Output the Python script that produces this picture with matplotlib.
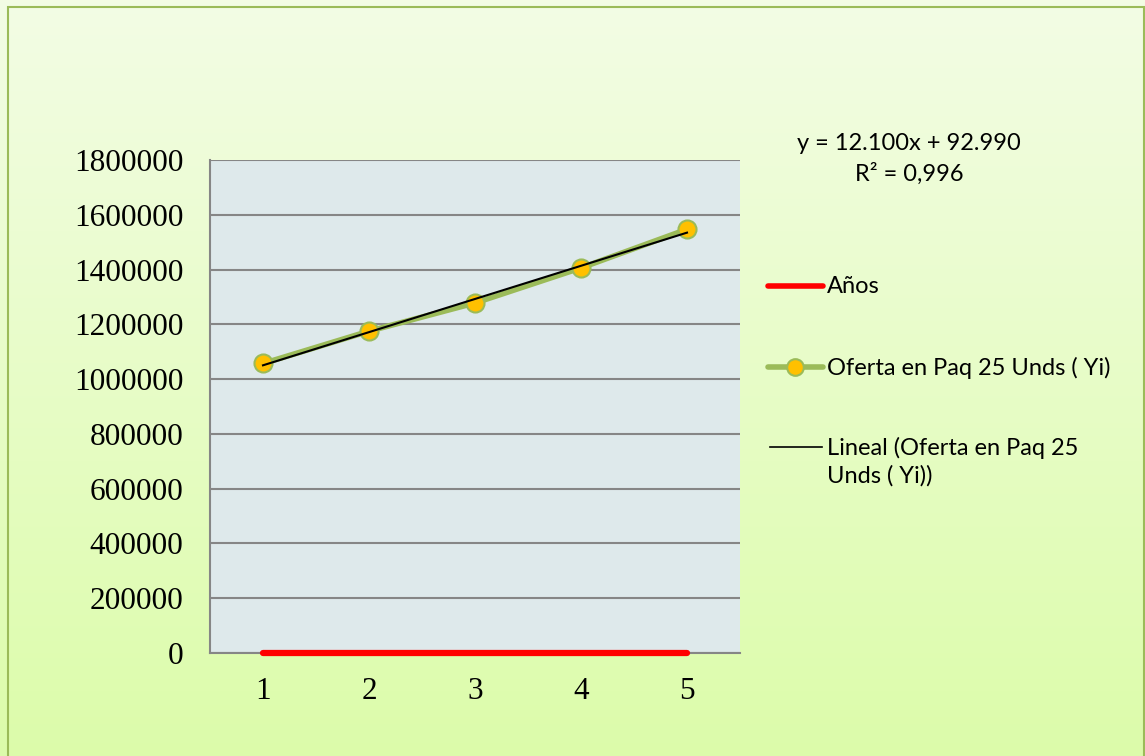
import numpy as np
import matplotlib
matplotlib.use("Agg")
import matplotlib.pyplot as plt
from matplotlib.lines import Line2D
from matplotlib.patches import Rectangle

# Data
periodos = [1, 2, 3, 4, 5]
anios = [1, 2, 3, 4, 5]
oferta = [1057000, 1175000, 1278000, 1406000, 1547000]
y_ticks = [0, 200000, 400000, 600000, 800000, 1000000, 1200000, 1400000, 1600000, 1800000]
ecuacion = "y = 12.100x + 92.990"
r_cuadrado = "R² = 0,996"
nombres = ["Años", "Oferta en Paq 25 Unds ( Yi)", "Lineal (Oferta en Paq 25\nUnds ( Yi))"]

W, H = 1145, 756
fig = plt.figure(figsize=(W / 100, H / 100), dpi=100)


def fx(px):
    return px / W


def fy(py):
    return 1 - py / H


# vertical green gradient behind everything
bg = fig.add_axes([0, 0, 1, 1], zorder=-10)
grad = np.linspace(0, 1, 256).reshape(-1, 1)
top = np.array([0.953, 0.992, 0.898])
bottom = np.array([0.863, 0.988, 0.667])
img = top * (1 - grad[..., None]) + bottom * grad[..., None]
bg.imshow(img, aspect="auto", extent=[0, 1, 0, 1], origin="upper")
bg.set_xlim(0, 1)
bg.set_ylim(0, 1)
bg.axis("off")
bg.add_patch(Rectangle((fx(8), -0.01), fx(1144) - fx(8), fy(7) + 0.01,
                       fill=False, edgecolor="#9bbb59", lw=1.5))

ax = fig.add_axes([fx(210), fy(653), 530 / W, 493 / H])
ax.set_facecolor("#dee9eb")

x = np.array(periodos)
ax.plot(x, anios, color="#ff0000", lw=4.5, solid_capstyle="round", zorder=6, clip_on=False)
ax.plot(x, oferta, color="#9bbb59", lw=4, marker="o", ms=13,
        markerfacecolor="#ffc000", markeredgecolor="#9bbb59", markeredgewidth=1.5, zorder=4)

# linear trend of the supply series
m, b = np.polyfit(x, oferta, 1)
ax.plot(x, m * x + b, color="black", lw=1.5, zorder=5)

ax.set_xlim(0.5, 5.5)
ax.set_ylim(0, 1800000)
ax.set_yticks(y_ticks)
ax.set_yticklabels([str(v) for v in y_ticks])
ax.set_xticks(periodos)
ax.yaxis.grid(True, color="#868686", lw=1.5)
ax.set_axisbelow(True)
for side in ["top", "right"]:
    ax.spines[side].set_visible(False)
for side in ["left", "bottom"]:
    ax.spines[side].set_color("#868686")
    ax.spines[side].set_linewidth(1.5)
ax.tick_params(axis="both", length=0, labelsize=22.5)
ax.tick_params(axis="y", pad=19)
ax.tick_params(axis="x", pad=17)
for lbl in ax.get_xticklabels() + ax.get_yticklabels():
    lbl.set_family("Liberation Serif")

fig.text(fx(909), fy(143), ecuacion, family="Lato", fontsize=17, ha="center", va="center")
fig.text(fx(909), fy(174), r_cuadrado, family="Lato", fontsize=17, ha="center", va="center")

# legend entries placed by hand so the trend handle sits on the first text line
leg_y = [286, 367, 447]
fig.add_artist(Line2D([fx(768), fx(823)], [fy(leg_y[0])] * 2, color="#ff0000", lw=4,
                      solid_capstyle="round"))
fig.add_artist(Line2D([fx(768), fx(823)], [fy(leg_y[1])] * 2, color="#9bbb59", lw=4,
                      solid_capstyle="round"))
fig.add_artist(Line2D([fx(795)], [fy(leg_y[1])], marker="o", ms=12, color="#ffc000",
                      markeredgecolor="#9bbb59", markeredgewidth=1.5))
fig.add_artist(Line2D([fx(770), fx(822)], [fy(leg_y[2])] * 2, color="black", lw=1.2))
for yy, nombre in zip(leg_y, nombres):
    fig.text(fx(827), fy(yy - 10), nombre, family="Lato", fontsize=17,
             ha="left", va="top", linespacing=1.35)

fig.savefig("out.png", dpi=100)
